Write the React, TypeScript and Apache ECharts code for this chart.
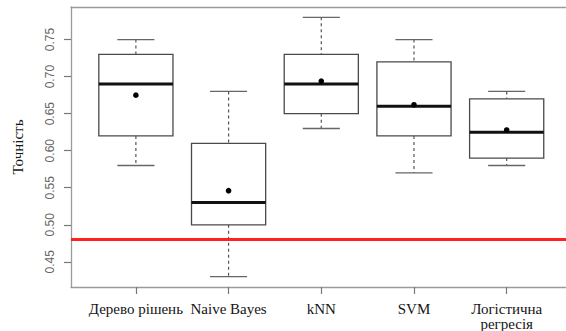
import React, { useEffect, useRef } from "react";
import * as echarts from "echarts";

const categories = ["Дерево рішень", "Naive Bayes", "kNN", "SVM", "Логістична\nрегресія"];
const whiskerLow = [0.58, 0.43, 0.63, 0.57, 0.58];
const q1 = [0.62, 0.5, 0.65, 0.62, 0.59];
const median = [0.69, 0.53, 0.69, 0.66, 0.625];
const q3 = [0.73, 0.61, 0.73, 0.72, 0.67];
const whiskerHigh = [0.75, 0.68, 0.78, 0.75, 0.68];
const means = [0.675, 0.546, 0.694, 0.662, 0.628];
const yTicks = [0.45, 0.5, 0.55, 0.6, 0.65, 0.7, 0.75];
const xTicks = [1, 2, 3, 4, 5];
const baseline = 0.483;

const boxData = categories.map((_, i) => [
  i + 1,
  whiskerLow[i],
  q1[i],
  median[i],
  q3[i],
  whiskerHigh[i],
  means[i],
]);

export default function App() {
  const ref = useRef<HTMLDivElement>(null);
  useEffect(() => {
    document.body.style.margin = "0";
    const chart = echarts.init(ref.current!, undefined, { renderer: "svg" });
    const boxColor = "#4a4a4a";
    const frame = { show: true, lineStyle: { color: "#9a9a9a", width: 1.3 } };
    chart.setOption({
      animation: false,
      backgroundColor: "#ffffff",
      grid: {
        left: 71,
        top: 7,
        bottom: 41,
        right: 0,
      },
      xAxis: [
        {
          type: "value",
          min: 0.3,
          max: 5.64,
          splitLine: { show: false },
          axisLine: frame,
          axisTick: {
            show: true,
            customValues: xTicks,
            length: 7,
            lineStyle: { color: "#777", width: 1.2 },
          },
          axisLabel: {
            customValues: xTicks,
            formatter: (v: number) => categories[Math.round(v) - 1] ?? "",
            margin: 14,
            fontFamily: "Liberation Serif",
            fontSize: 15,
            color: "#151515",
            lineHeight: 15,
          },
        },
        {
          type: "value",
          position: "top",
          min: 0.3,
          max: 5.64,
          splitLine: { show: false },
          axisLine: frame,
          axisTick: { show: false },
          axisLabel: { show: false },
        },
      ],
      yAxis: {
        type: "value",
        min: 0.416,
        max: 0.794,
        name: "Точність",
        nameLocation: "middle",
        nameRotate: 90,
        nameGap: 46,
        nameTextStyle: {
          fontFamily: "Liberation Serif",
          fontSize: 15,
          color: "#151515",
        },
        splitLine: { show: false },
        axisLine: frame,
        axisTick: {
          show: true,
          customValues: yTicks,
          length: 7,
          lineStyle: { color: "#777", width: 1.2 },
        },
        axisLabel: {
          customValues: yTicks,
          rotate: 90,
          margin: 15,
          formatter: (v: number) => v.toFixed(2),
          fontFamily: "Liberation Sans",
          fontSize: 12,
          color: "#666",
        },
      },
      series: [
        {
          type: "custom",
          xAxisIndex: 0,
          data: boxData,
          encode: { x: 0, y: [1, 2, 3, 4, 5, 6] },
          renderItem: (params: any, api: any) => {
            const x = api.value(0);
            const lo = api.coord([x, api.value(1)]);
            const b1 = api.coord([x, api.value(2)]);
            const md = api.coord([x, api.value(3)]);
            const b3 = api.coord([x, api.value(4)]);
            const hi = api.coord([x, api.value(5)]);
            const mn = api.coord([x, api.value(6)]);
            const halfBox = api.coord([x + 0.4, 0.5])[0] - api.coord([x, 0.5])[0];
            const halfCap = halfBox / 2;
            const cx = lo[0];
            const dashed = { stroke: "#555", lineWidth: 1.2, lineDash: [3, 3] };
            const solid = { stroke: boxColor, lineWidth: 1.3 };
            return {
              type: "group",
              children: [
                { type: "line", shape: { x1: cx, y1: hi[1], x2: cx, y2: b3[1] }, style: dashed },
                { type: "line", shape: { x1: cx, y1: b1[1], x2: cx, y2: lo[1] }, style: dashed },
                { type: "line", shape: { x1: cx - halfCap, y1: hi[1], x2: cx + halfCap, y2: hi[1] }, style: { stroke: "#666", lineWidth: 1.3 } },
                { type: "line", shape: { x1: cx - halfCap, y1: lo[1], x2: cx + halfCap, y2: lo[1] }, style: { stroke: "#666", lineWidth: 1.3 } },
                {
                  type: "rect",
                  shape: { x: cx - halfBox, y: b3[1], width: halfBox * 2, height: b1[1] - b3[1] },
                  style: { ...solid, fill: "#fff" },
                },
                { type: "line", shape: { x1: cx - halfBox, y1: md[1], x2: cx + halfBox, y2: md[1] }, style: { stroke: "#111", lineWidth: 3 } },
                { type: "circle", shape: { cx: cx, cy: mn[1], r: 2.8 }, style: { fill: "#000" } },
              ],
            };
          },
          markLine: {
            silent: true,
            symbol: "none",
            label: { show: false },
            lineStyle: { color: "#ff2020", width: 3, type: "solid" },
            data: [{ yAxis: baseline }],
          },
        },
      ],
    });
    return () => chart.dispose();
  }, []);
  return <div ref={ref} style={{ width: 566, height: 331 }} />;
}
